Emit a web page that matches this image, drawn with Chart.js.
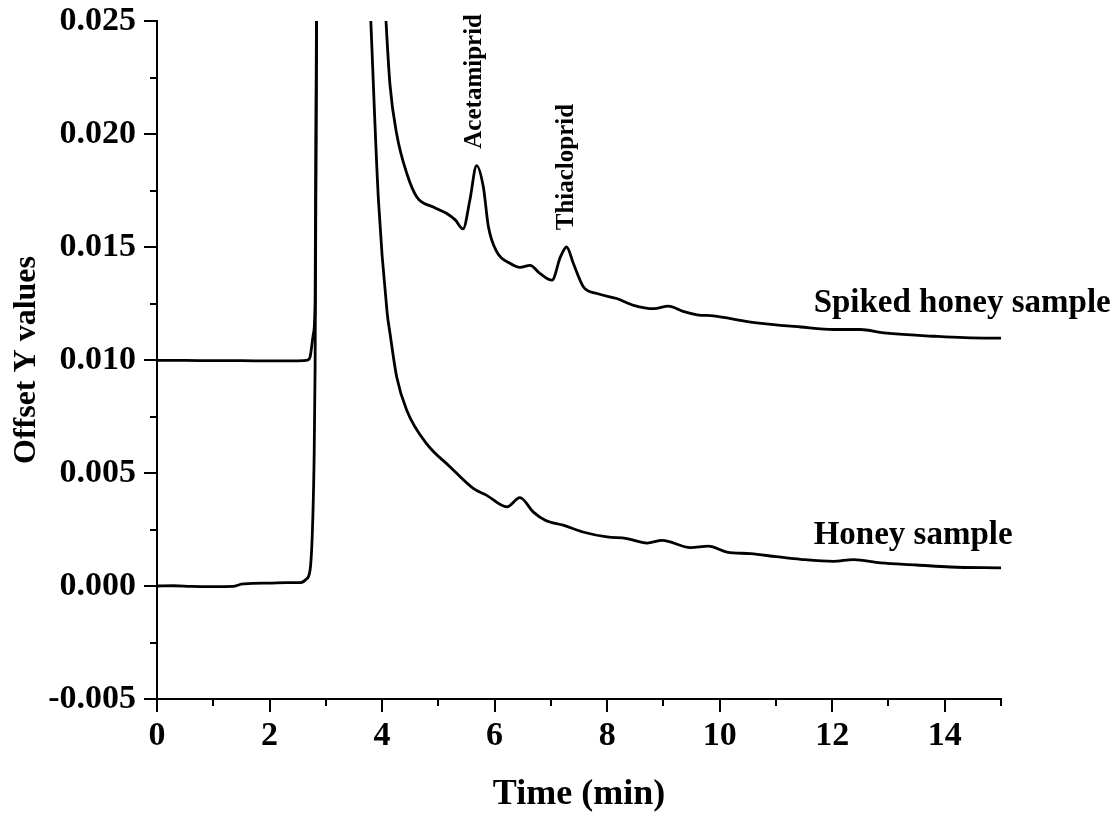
<!DOCTYPE html>
<html>
<head>
<meta charset="utf-8">
<script src="https://cdn.jsdelivr.net/npm/chart.js@4.4.1/dist/chart.umd.min.js"></script>
<style>
  html, body { margin: 0; padding: 0; background: #fff; }
  #wrap { width: 1117px; height: 818px; }
</style>
</head>
<body>
<div id="wrap"><canvas id="c" width="1117" height="818"></canvas></div>
<script>
// ---- Data ----
const honeyTime = [0, 0.3, 0.6, 1.0, 1.35, 1.5, 1.7, 2.0, 2.3, 2.55, 2.65, 2.72, 2.76, 2.79, 2.81, 2.845, 2.9, 3.3, 3.55, 3.70, 3.80, 3.935, 4.09, 4.14, 4.26, 4.44, 4.79, 5.21, 5.62, 5.86, 6.22, 6.45, 6.69, 6.90, 7.22, 7.57, 8.0, 8.35, 8.71, 8.98, 9.48, 9.80, 10.13, 10.55, 11.0, 11.44, 12.02, 12.38, 12.86, 13.5, 14.1, 15.0];
const honeyValues = [0.00000, 0.00001, -0.00002, -0.00003, -0.00002, 0.00008, 0.00012, 0.00013, 0.00015, 0.00015, 0.00030, 0.00070, 0.00230, 0.00530, 0.00970, 0.03000, 0.06000, 0.08000, 0.04500, 0.03100, 0.02500, 0.01710, 0.01210, 0.01120, 0.00925, 0.00777, 0.00630, 0.00527, 0.00432, 0.00401, 0.00350, 0.00391, 0.00327, 0.00291, 0.00269, 0.00239, 0.00217, 0.00210, 0.00190, 0.00202, 0.00170, 0.00176, 0.00150, 0.00143, 0.00130, 0.00118, 0.00109, 0.00117, 0.00102, 0.00093, 0.00084, 0.00080];

const spikedTime = [0, 0.5, 1.0, 1.5, 2.0, 2.4, 2.6, 2.68, 2.72, 2.78, 2.81, 2.85, 2.9, 3.4, 3.8, 3.95, 4.07, 4.14, 4.26, 4.44, 4.62, 4.91, 5.15, 5.30, 5.44, 5.56, 5.68, 5.80, 5.89, 6.04, 6.28, 6.45, 6.63, 6.81, 7.02, 7.17, 7.28, 7.40, 7.58, 7.82, 8.17, 8.47, 8.83, 9.09, 9.35, 9.60, 9.89, 10.55, 11.44, 12.03, 12.5, 12.92, 13.81, 14.7, 15.0];
const spikedValues = [0.00998, 0.00998, 0.00997, 0.00997, 0.00996, 0.00996, 0.00997, 0.01000, 0.01013, 0.01117, 0.01260, 0.03500, 0.07000, 0.09000, 0.04500, 0.03100, 0.02500, 0.02220, 0.02000, 0.01825, 0.01720, 0.01677, 0.01648, 0.01620, 0.01580, 0.01707, 0.01860, 0.01765, 0.01590, 0.01478, 0.01427, 0.01410, 0.01419, 0.01382, 0.01353, 0.01456, 0.01500, 0.01427, 0.01323, 0.01294, 0.01272, 0.01242, 0.01227, 0.01238, 0.01215, 0.01200, 0.01195, 0.01168, 0.01146, 0.01135, 0.01135, 0.01120, 0.01105, 0.01097, 0.01097];

const seriesNames = ['Spiked honey sample', 'Honey sample'];
const peakNames = ['Acetamiprid', 'Thiacloprid'];
const peakTime = [5.76, 7.40];
const peakLabelBase = [0.01935, 0.01574];
const seriesLabelTime = [11.67, 11.67];
const seriesLabelValue = [0.01211, 0.00188];

const xMinorTicks = [1, 3, 5, 7, 9, 11, 13, 15];
const yMinorTicks = [0.0225, 0.0175, 0.0125, 0.0075, 0.0025, -0.0025];

const FONT = "'Liberation Serif', 'Times New Roman', serif";

const toXY = (ts, vs) => ts.map((t, i) => ({ x: t, y: vs[i] }));

const extras = {
  id: 'extras',
  afterDraw(chart) {
    const { ctx, chartArea: ca, scales: { x, y } } = chart;
    ctx.save();
    ctx.strokeStyle = '#000';
    ctx.lineWidth = 2;
    xMinorTicks.forEach(v => {
      const px = Math.round(x.getPixelForValue(v));
      ctx.beginPath(); ctx.moveTo(px, ca.bottom); ctx.lineTo(px, ca.bottom + 7); ctx.stroke();
    });
    yMinorTicks.forEach(v => {
      const py = Math.round(y.getPixelForValue(v));
      ctx.beginPath(); ctx.moveTo(ca.left, py); ctx.lineTo(ca.left - 7, py); ctx.stroke();
    });
    ctx.fillStyle = '#000';
    ctx.font = 'bold 25px ' + FONT;
    ctx.textAlign = 'left';
    ctx.textBaseline = 'alphabetic';
    peakNames.forEach((name, i) => {
      const px = x.getPixelForValue(peakTime[i]);
      const py = y.getPixelForValue(peakLabelBase[i]);
      ctx.save();
      ctx.translate(px, py);
      ctx.rotate(-Math.PI / 2);
      ctx.fillText(name, 0, 0);
      ctx.restore();
    });
    ctx.font = 'bold 33px ' + FONT;
    seriesNames.forEach((name, i) => {
      ctx.fillText(name, x.getPixelForValue(seriesLabelTime[i]), y.getPixelForValue(seriesLabelValue[i]));
    });
    ctx.restore();
  }
};

new Chart(document.getElementById('c'), {
  type: 'line',
  data: {
    datasets: [
      { label: seriesNames[0], data: toXY(spikedTime, spikedValues), borderColor: '#000', borderWidth: 2.8, pointRadius: 0, fill: false, cubicInterpolationMode: 'monotone' },
      { label: seriesNames[1], data: toXY(honeyTime, honeyValues), borderColor: '#000', borderWidth: 2.8, pointRadius: 0, fill: false, cubicInterpolationMode: 'monotone' }
    ]
  },
  options: {
    responsive: false,
    animation: false,
    events: [],
    layout: { padding: { left: 0, top: 21, right: 116, bottom: 0 } },
    plugins: { legend: { display: false }, tooltip: { enabled: false } },
    scales: {
      x: {
        type: 'linear',
        min: 0, max: 15,
        afterFit: s => { s.height = 119; s.paddingLeft = 0; s.paddingRight = 0; },
        border: { display: true, color: '#000', width: 2 },
        grid: { drawOnChartArea: false, drawTicks: true, tickLength: 13, color: '#000', lineWidth: 2 },
        ticks: { stepSize: 2, includeBounds: false, color: '#000', padding: 4, maxRotation: 0, autoSkip: false,
                 font: { family: FONT, size: 34, weight: 'bold' },
                 callback: v => String(v) },
        title: { display: true, text: 'Time (min)', color: '#000', font: { family: FONT, size: 36, weight: 'bold' }, padding: { top: 0, bottom: 2 } }
      },
      y: {
        type: 'linear',
        min: -0.005, max: 0.025,
        afterFit: s => { s.width = 157; s.paddingTop = 0; s.paddingBottom = 0; },
        border: { display: true, color: '#000', width: 2 },
        grid: { drawOnChartArea: false, drawTicks: true, tickLength: 13, color: '#000', lineWidth: 2 },
        ticks: { stepSize: 0.005, color: '#000', padding: 8, autoSkip: false,
                 font: { family: FONT, size: 34, weight: 'bold' },
                 callback: v => Number(v).toFixed(3) },
        title: { display: true, text: 'Offset Y values', color: '#000', font: { family: FONT, size: 32, weight: 'bold' }, padding: { top: 8, bottom: 0 } }
      }
    }
  },
  plugins: [extras]
});
</script>
</body>
</html>
